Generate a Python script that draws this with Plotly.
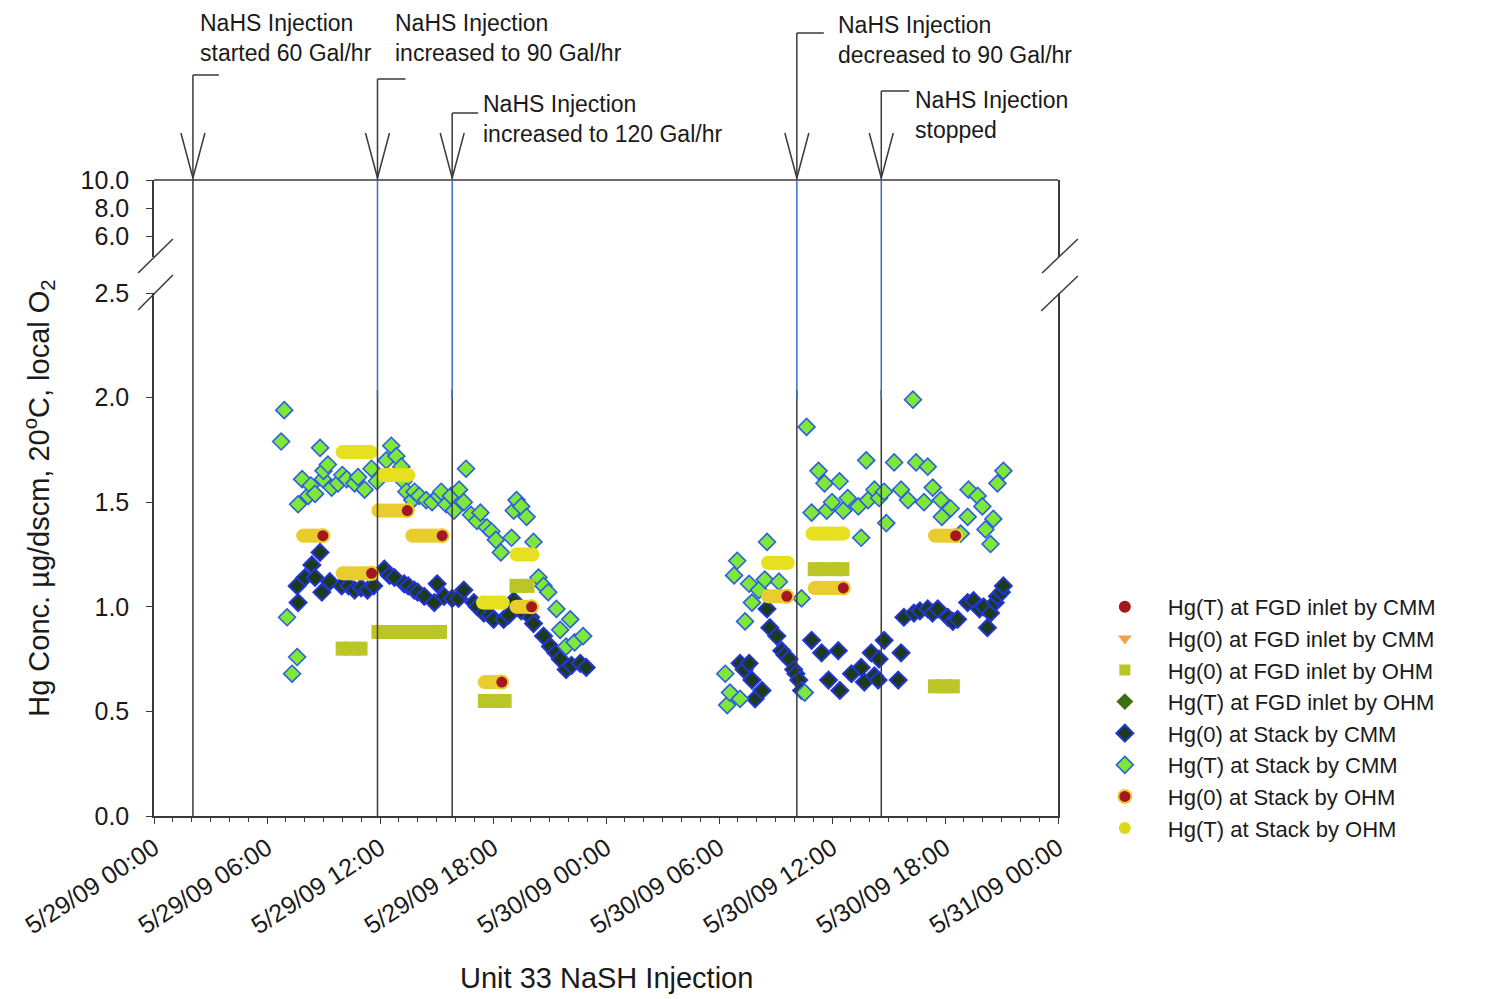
import plotly.graph_objects as go

# ---------------- data ----------------
# Hg(T) at Stack by CMM
hgt_stack_cmm_time = [
    '2009-05-29 06:45', '2009-05-29 06:55', '2009-05-29 07:04', '2009-05-29 07:20', '2009-05-29 07:36',
    '2009-05-29 07:39', '2009-05-29 07:52', '2009-05-29 08:11', '2009-05-29 08:20', '2009-05-29 08:33',
    '2009-05-29 08:49', '2009-05-29 08:58', '2009-05-29 09:00', '2009-05-29 09:14', '2009-05-29 09:26',
    '2009-05-29 09:46', '2009-05-29 10:00', '2009-05-29 10:14', '2009-05-29 10:39', '2009-05-29 10:50',
    '2009-05-29 11:11', '2009-05-29 11:33', '2009-05-29 11:50', '2009-05-29 12:20', '2009-05-29 12:36',
    '2009-05-29 12:52', '2009-05-29 13:08', '2009-05-29 13:15', '2009-05-29 13:24', '2009-05-29 13:43',
    '2009-05-29 13:50', '2009-05-29 14:05', '2009-05-29 14:27', '2009-05-29 14:46', '2009-05-29 15:08',
    '2009-05-29 15:15', '2009-05-29 15:31', '2009-05-29 15:46', '2009-05-29 15:56', '2009-05-29 16:12',
    '2009-05-29 16:27', '2009-05-29 16:34', '2009-05-29 16:50', '2009-05-29 17:09', '2009-05-29 17:20',
    '2009-05-29 17:40', '2009-05-29 17:55', '2009-05-29 18:09', '2009-05-29 18:25', '2009-05-29 18:59',
    '2009-05-29 19:06', '2009-05-29 19:15', '2009-05-29 19:30', '2009-05-29 19:47', '2009-05-29 20:09',
    '2009-05-29 20:25', '2009-05-29 20:41', '2009-05-29 20:56', '2009-05-29 21:22', '2009-05-29 21:34',
    '2009-05-29 21:53', '2009-05-29 22:06', '2009-05-29 22:20', '2009-05-29 22:47',
    '2009-05-30 06:20', '2009-05-30 06:26', '2009-05-30 06:35', '2009-05-30 06:48', '2009-05-30 06:58',
    '2009-05-30 07:07', '2009-05-30 07:23', '2009-05-30 07:36', '2009-05-30 07:45', '2009-05-30 08:07',
    '2009-05-30 08:26', '2009-05-30 08:33', '2009-05-30 09:11', '2009-05-30 10:23', '2009-05-30 10:33',
    '2009-05-30 10:39', '2009-05-30 10:55', '2009-05-30 11:17', '2009-05-30 11:36', '2009-05-30 11:43',
    '2009-05-30 12:00', '2009-05-30 12:24', '2009-05-30 12:36', '2009-05-30 12:50', '2009-05-30 13:24',
    '2009-05-30 13:33', '2009-05-30 13:49', '2009-05-30 13:55', '2009-05-30 14:15', '2009-05-30 14:30',
    '2009-05-30 14:46', '2009-05-30 14:53', '2009-05-30 15:18', '2009-05-30 15:40', '2009-05-30 16:02',
    '2009-05-30 16:18', '2009-05-30 16:28', '2009-05-30 16:53', '2009-05-30 17:05', '2009-05-30 17:21',
    '2009-05-30 17:47', '2009-05-30 17:50', '2009-05-30 18:18', '2009-05-30 18:50', '2009-05-30 19:12',
    '2009-05-30 19:15', '2009-05-30 19:44', '2009-05-30 19:59', '2009-05-30 20:09', '2009-05-30 20:25',
    '2009-05-30 20:34', '2009-05-30 20:47', '2009-05-30 21:06',
]
hgt_stack_cmm_val = [
    1.79, 1.94, 0.95, 0.68, 0.76,
    1.49, 1.61, 1.53, 1.58, 1.54,
    1.76, 1.61, 1.65, 1.68, 1.57,
    1.59, 1.63, 1.61, 1.59, 1.62,
    1.56, 1.66, 1.60, 1.70, 1.77,
    1.72, 1.67, 1.60, 1.55, 1.51,
    1.55, 1.53, 1.51, 1.50, 1.53,
    1.55, 1.49, 1.53, 1.46, 1.56,
    1.50, 1.66, 1.44, 1.41, 1.45,
    1.38, 1.36, 1.32, 1.26, 1.33,
    1.46, 1.51, 1.48, 1.43, 1.31,
    1.14, 1.10, 1.07, 0.99, 0.89,
    0.81, 0.94, 0.83, 0.86,
    0.68, 0.53, 0.59, 1.15, 1.22,
    0.56, 0.93, 1.11, 1.02, 1.08,
    1.13, 1.31, 1.12, 1.04, 0.59,
    1.86, 1.45, 1.65, 1.59, 1.46,
    1.50, 1.60, 1.46, 1.52, 1.48,
    1.33, 1.70, 1.51, 1.56, 1.52,
    1.55, 1.40, 1.69, 1.56, 1.51,
    1.99, 1.69, 1.50, 1.67, 1.57,
    1.51, 1.43, 1.47, 1.35, 1.43,
    1.56, 1.53, 1.48, 1.37, 1.30,
    1.42, 1.59, 1.65,
]

# Hg(0) at Stack by CMM
hg0_stack_cmm_time = [
    '2009-05-29 07:36', '2009-05-29 07:39', '2009-05-29 08:01', '2009-05-29 08:23', '2009-05-29 08:33',
    '2009-05-29 08:49', '2009-05-29 08:55', '2009-05-29 09:20', '2009-05-29 09:58', '2009-05-29 10:20',
    '2009-05-29 10:39', '2009-05-29 11:00', '2009-05-29 11:20', '2009-05-29 11:40', '2009-05-29 12:14',
    '2009-05-29 12:30', '2009-05-29 12:46', '2009-05-29 13:17', '2009-05-29 13:30', '2009-05-29 13:49',
    '2009-05-29 14:00', '2009-05-29 14:21', '2009-05-29 14:53', '2009-05-29 15:02', '2009-05-29 15:24',
    '2009-05-29 15:50', '2009-05-29 16:10', '2009-05-29 16:27', '2009-05-29 16:59', '2009-05-29 17:10',
    '2009-05-29 17:31', '2009-05-29 17:50', '2009-05-29 18:02', '2009-05-29 18:34', '2009-05-29 18:50',
    '2009-05-29 19:06', '2009-05-29 19:30', '2009-05-29 20:00', '2009-05-29 20:09', '2009-05-29 20:41',
    '2009-05-29 21:03', '2009-05-29 21:20', '2009-05-29 21:34', '2009-05-29 21:53', '2009-05-29 22:10',
    '2009-05-29 22:38', '2009-05-29 22:57',
    '2009-05-30 07:07', '2009-05-30 07:20', '2009-05-30 07:36', '2009-05-30 07:45', '2009-05-30 07:55',
    '2009-05-30 08:17', '2009-05-30 08:33', '2009-05-30 08:42', '2009-05-30 09:04', '2009-05-30 09:20',
    '2009-05-30 09:30', '2009-05-30 09:43', '2009-05-30 09:58', '2009-05-30 10:05', '2009-05-30 10:14',
    '2009-05-30 10:23', '2009-05-30 10:55', '2009-05-30 11:27', '2009-05-30 11:49', '2009-05-30 12:20',
    '2009-05-30 12:25', '2009-05-30 13:02', '2009-05-30 13:33', '2009-05-30 13:43', '2009-05-30 14:05',
    '2009-05-30 14:15', '2009-05-30 14:27', '2009-05-30 14:30', '2009-05-30 14:46', '2009-05-30 15:31',
    '2009-05-30 15:40', '2009-05-30 15:49', '2009-05-30 16:21', '2009-05-30 16:40', '2009-05-30 17:05',
    '2009-05-30 17:20', '2009-05-30 17:37', '2009-05-30 18:09', '2009-05-30 18:25', '2009-05-30 18:40',
    '2009-05-30 19:12', '2009-05-30 19:31', '2009-05-30 19:50', '2009-05-30 20:03', '2009-05-30 20:15',
    '2009-05-30 20:25', '2009-05-30 20:40', '2009-05-30 20:47', '2009-05-30 21:00', '2009-05-30 21:06',
]
hg0_stack_cmm_val = [
    1.10, 1.02, 1.14, 1.20, 1.14,
    1.26, 1.07, 1.12, 1.10, 1.10,
    1.08, 1.09, 1.08, 1.10, 1.18,
    1.15, 1.14, 1.11, 1.10, 1.08,
    1.07, 1.05, 1.02, 1.11, 1.05,
    1.04, 1.04, 1.08, 1.02, 1.00,
    0.97, 0.96, 0.94, 0.94, 0.96,
    1.03, 0.98, 0.95, 0.92, 0.86,
    0.81, 0.78, 0.75, 0.70, 0.72,
    0.73, 0.71,
    0.73, 0.70, 0.73, 0.65, 0.56,
    0.60, 0.99, 0.90, 0.86, 0.79,
    0.77, 0.75, 0.70, 0.68, 0.65,
    0.60, 0.84, 0.78, 0.65, 0.79,
    0.60, 0.68, 0.71, 0.64, 0.78,
    0.67, 0.65, 0.75, 0.84, 0.65,
    0.78, 0.95, 0.97, 0.98, 0.99,
    0.97, 0.99, 0.95, 0.93, 0.94,
    1.02, 1.03, 0.99, 1.00, 0.90,
    0.97, 1.02, 1.05, 1.07, 1.10,
]

# Hg(0) at Stack by OHM  (sampling runs: start, end, value)
hg0_stack_ohm_start = ['2009-05-29 07:55', '2009-05-29 10:01', '2009-05-29 11:55', '2009-05-29 13:43',
                       '2009-05-29 17:34', '2009-05-29 19:15', '2009-05-30 08:36', '2009-05-30 11:05',
                       '2009-05-30 17:28']
hg0_stack_ohm_end = ['2009-05-29 08:58', '2009-05-29 11:33', '2009-05-29 13:27', '2009-05-29 15:18',
                     '2009-05-29 18:28', '2009-05-29 20:03', '2009-05-30 09:36', '2009-05-30 12:36',
                     '2009-05-30 18:34']
hg0_stack_ohm_val = [1.34, 1.16, 1.46, 1.34, 0.64, 1.00, 1.05, 1.09, 1.34]

# Hg(T) at Stack by OHM
hgt_stack_ohm_start = ['2009-05-29 10:01', '2009-05-29 12:11', '2009-05-29 17:28', '2009-05-29 19:15',
                       '2009-05-30 08:36', '2009-05-30 10:58']
hgt_stack_ohm_end = ['2009-05-29 11:30', '2009-05-29 13:30', '2009-05-29 18:31', '2009-05-29 20:06',
                     '2009-05-30 09:39', '2009-05-30 12:36']
hgt_stack_ohm_val = [1.74, 1.63, 1.02, 1.25, 1.21, 1.35]

# Hg(0) at FGD inlet by OHM
hg0_fgd_ohm_start = ['2009-05-29 10:01', '2009-05-29 11:55', '2009-05-29 17:34', '2009-05-29 19:15',
                     '2009-05-30 11:05', '2009-05-30 17:28']
hg0_fgd_ohm_end = ['2009-05-29 10:58', '2009-05-29 15:11', '2009-05-29 18:37', '2009-05-29 19:50',
                   '2009-05-30 12:33', '2009-05-30 18:25']
hg0_fgd_ohm_val = [0.80, 0.88, 0.55, 1.10, 1.18, 0.62]

# NaHS injection events
event_time = ['2009-05-29 02:04', '2009-05-29 11:52', '2009-05-29 15:50',
              '2009-05-30 10:08', '2009-05-30 14:37']
event_text = ['NaHS Injection<br>started 60 Gal/hr',
              'NaHS Injection<br>increased to 90 Gal/hr',
              'NaHS Injection<br>increased to 120 Gal/hr',
              'NaHS Injection<br>decreased to 90 Gal/hr',
              'NaHS Injection<br>stopped']

x_range = ['2009-05-29 00:00', '2009-05-31 00:00']
y_low_ticks = [0.0, 0.5, 1.0, 1.5, 2.0, 2.5]
y_high_ticks = [6.0, 8.0, 10.0]

# ---------------- layout helpers (page pixels of the plot frame) ----------------
PAGE_OFF = 8               # default body margin of the html page
W, H = 1490 - PAGE_OFF, 999 - PAGE_OFF
L, R, T, B = 148, 1058, 180, 816


def px(xp):
    return (xp - L) / (R - L)


def py(yp):
    return (B - yp) / (B - T)


FONT = 'Arial, Liberation Sans, sans-serif'
TXT = '#1a1a1a'
AX = '#3a3a3a'


def bar_xy(starts, ends, vals):
    xs, ys = [], []
    for s, e, v in zip(starts, ends, vals):
        xs += [s, e, None]
        ys += [v, v, None]
    return xs, ys


fig = go.Figure()

# legend-only entries (no data visible in this chart)
fig.add_trace(go.Scatter(x=[None], y=[None], mode='markers', name='Hg(T) at FGD inlet by CMM',
                         marker=dict(symbol='circle', size=12, color='#a3171f'), legendrank=1))
fig.add_trace(go.Scatter(x=[None], y=[None], mode='markers', name='Hg(0) at FGD inlet by CMM',
                         marker=dict(symbol='triangle-down', size=12, color='#f2a24a'), legendrank=2))
fig.add_trace(go.Scatter(x=[None], y=[None], mode='markers', name='Hg(0) at FGD inlet by OHM',
                         marker=dict(symbol='square', size=11, color='#bcc526'), legendrank=3,
                         legendgroup='fgdohm'))
fig.add_trace(go.Scatter(x=[None], y=[None], mode='markers', name='Hg(T) at FGD inlet by OHM',
                         marker=dict(symbol='diamond', size=13, color='#3f6e14'), legendrank=4))

# CMM stack diamonds
fig.add_trace(go.Scatter(x=hg0_stack_cmm_time, y=hg0_stack_cmm_val, mode='markers',
                         name='Hg(0) at Stack by CMM', legendrank=5,
                         marker=dict(symbol='diamond', size=13, color='#1c3b1e',
                                     line=dict(color='#2335d6', width=2))))
fig.add_trace(go.Scatter(x=hgt_stack_cmm_time, y=hgt_stack_cmm_val, mode='markers',
                         name='Hg(T) at Stack by CMM', legendrank=6,
                         marker=dict(symbol='diamond', size=13, color='#7fe63a',
                                     line=dict(color='#2b5fe0', width=1.6))))

# OHM runs drawn as bars over their sampling period
bx, by = bar_xy(hg0_fgd_ohm_start, hg0_fgd_ohm_end, hg0_fgd_ohm_val)
fig.add_trace(go.Scatter(x=bx, y=by, mode='lines+markers', showlegend=False, legendgroup='fgdohm',
                         line=dict(color='#bcc526', width=14),
                         marker=dict(symbol='square', size=14, color='#bcc526')))

bx, by = bar_xy(hgt_stack_ohm_start, hgt_stack_ohm_end, hgt_stack_ohm_val)
fig.add_trace(go.Scatter(x=bx, y=by, mode='lines+markers', showlegend=False, legendgroup='stackohmt',
                         line=dict(color='#e6e01e', width=14),
                         marker=dict(symbol='circle', size=14, color='#e6e01e')))

bx, by = bar_xy(hg0_stack_ohm_start, hg0_stack_ohm_end, hg0_stack_ohm_val)
fig.add_trace(go.Scatter(x=bx, y=by, mode='lines+markers', showlegend=False, legendgroup='stackoh0',
                         line=dict(color='#e9cd2e', width=14),
                         marker=dict(symbol='circle', size=14, color='#e9cd2e')))
fig.add_trace(go.Scatter(x=hg0_stack_ohm_end, y=hg0_stack_ohm_val, mode='markers',
                         name='Hg(0) at Stack by OHM', legendrank=7, legendgroup='stackoh0',
                         marker=dict(symbol='circle', size=13, color='#a3171f',
                                     line=dict(color='#e9cd2e', width=2))))
fig.add_trace(go.Scatter(x=[None], y=[None], mode='markers', name='Hg(T) at Stack by OHM',
                         legendrank=8, legendgroup='stackohmt',
                         marker=dict(symbol='circle', size=12, color='#dcd818')))

# dummy trace to activate the upper (broken) y axis
fig.add_trace(go.Scatter(x=[None], y=[None], yaxis='y2', showlegend=False, hoverinfo='skip'))

shapes = []
# top frame line
shapes.append(dict(type='line', xref='paper', yref='paper', x0=0, x1=1, y0=1, y1=1,
                   line=dict(color=AX, width=1.5)))
# axis-break marks
for (x0, y0, x1, y1) in [(132, 273, 167, 239), (132, 310, 167, 275),
                         (1042, 273, 1078, 239), (1041, 311, 1078, 276)]:
    shapes.append(dict(type='line', xref='paper', yref='paper', x0=px(x0), y0=py(y0),
                       x1=px(x1), y1=py(y1), line=dict(color=AX, width=1.5)))

stem_top = [75, 79, 113, 33, 91]
stub_len = [26, 28, 26, 27, 28]
text_dx = [6, 17, 30, 40, 33]
text_cy = [38, 38, 118.5, 40, 115]

annotations = []
for i, t in enumerate(event_time):
    # vertical marker line inside the plot
    if i == 0:
        shapes.append(dict(type='line', xref='x', yref='paper', x0=t, x1=t, y0=0, y1=1,
                           line=dict(color=AX, width=1.5)))
    else:
        shapes.append(dict(type='line', xref='x', yref='paper', x0=t, x1=t, y0=0, y1=py(390),
                           line=dict(color=AX, width=1.5)))
        shapes.append(dict(type='line', xref='x', yref='paper', x0=t, x1=t, y0=py(398), y1=1,
                           line=dict(color='#3b6cc6', width=1.5)))
    # leader above the plot
    shapes.append(dict(type='line', xref='x', xsizemode='pixel', xanchor=t, x0=0, x1=0,
                       yref='paper', y0=1, y1=py(stem_top[i]), line=dict(color=AX, width=1.5)))
    shapes.append(dict(type='line', xref='x', xsizemode='pixel', xanchor=t, x0=0, x1=stub_len[i],
                       yref='paper', y0=py(stem_top[i]), y1=py(stem_top[i]),
                       line=dict(color=AX, width=1.5)))
    for sgn in (-1, 1):
        shapes.append(dict(type='line', xref='x', xsizemode='pixel', xanchor=t, x0=0, x1=12 * sgn,
                           yref='paper', y0=py(178), y1=py(133), line=dict(color=AX, width=1.5)))
    annotations.append(dict(x=t, xref='x', xshift=text_dx[i], xanchor='left',
                            y=py(text_cy[i]), yref='paper', yanchor='middle', borderpad=0,
                            text=event_text[i], showarrow=False, align='left',
                            font=dict(size=23, color=TXT, family=FONT)))

# axis titles
annotations.append(dict(x=px(32), y=py(498), xref='paper', yref='paper', textangle=-90,
                        xanchor='center', yanchor='middle',
                        text='Hg Conc. \u00b5g/dscm, 20<sup>o</sup>C, local O<sub>2</sub>',
                        showarrow=False, font=dict(size=29, color=TXT, family=FONT)))
annotations.append(dict(x=px(603), y=py(978), xref='paper', yref='paper',
                        xanchor='center', yanchor='middle',
                        text='Unit 33 NaSH Injection', showarrow=False,
                        font=dict(size=29, color=TXT, family=FONT)))

fig.update_layout(
    width=W, height=H,
    margin=dict(l=L - PAGE_OFF, r=W - (R - PAGE_OFF), t=T - PAGE_OFF, b=H - (B - PAGE_OFF)),
    paper_bgcolor='white', plot_bgcolor='white',
    font=dict(family=FONT, size=24, color=TXT),
    showlegend=True,
    legend=dict(x=px(1082), y=py(586), xanchor='left', yanchor='top',
                font=dict(size=22, color=TXT, family=FONT), itemwidth=76,
                bgcolor='rgba(0,0,0,0)', tracegroupgap=0, traceorder='normal'),
    xaxis=dict(type='date', range=x_range, tick0=x_range[0], dtick=6 * 3600000,
               tickformat='%-m/%d/%y %H:%M', tickangle=-33, ticks='outside', ticklen=6,
               tickcolor=AX, showline=True, linecolor=AX, linewidth=1.5, showgrid=False,
               zeroline=False, anchor='y', tickfont=dict(size=25, color=TXT, family=FONT),
               minor=dict(dtick=3600000, ticks='outside', ticklen=4, tickcolor=AX, showgrid=False)),
    yaxis=dict(domain=[0, py(293)], range=[0, 2.5], tickvals=y_low_ticks, tickformat='.1f',
               ticks='outside', ticklen=6, tickcolor=AX, showline=True, mirror=True,
               linecolor=AX, linewidth=1.5, showgrid=False, zeroline=False,
               ticklabelstandoff=12, tickfont=dict(size=25, color=TXT, family=FONT)),
    yaxis2=dict(domain=[py(257), 1], range=[4.5, 10], tickvals=y_high_ticks,
                ticktext=['%.1f' % v for v in y_high_ticks], anchor='x',
                ticks='outside', ticklen=6, tickcolor=AX, showline=True, mirror=True,
                linecolor=AX, linewidth=1.5, showgrid=False, zeroline=False,
                ticklabelstandoff=12, tickfont=dict(size=25, color=TXT, family=FONT)),
    shapes=shapes,
    annotations=annotations,
)

fig.write_html('out.html')
